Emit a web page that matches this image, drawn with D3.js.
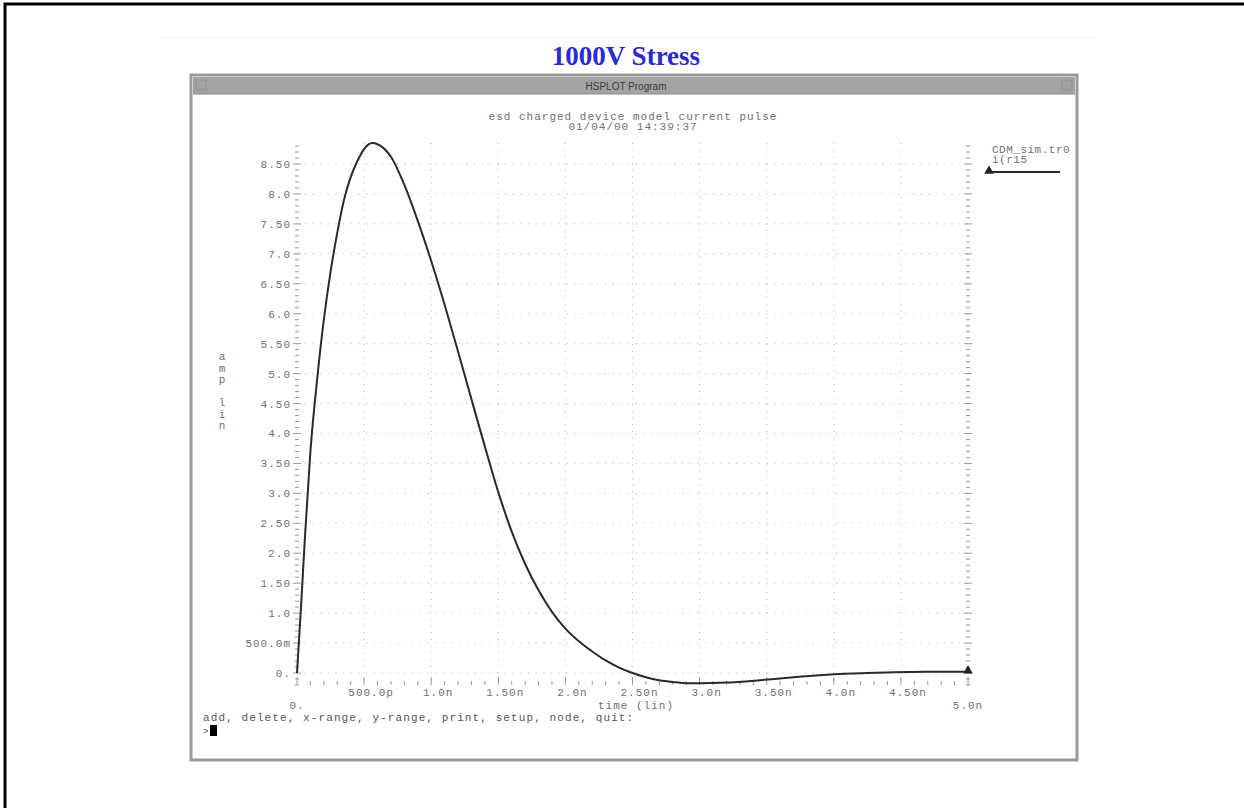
<!DOCTYPE html>
<html><head><meta charset="utf-8">
<script src="https://cdn.jsdelivr.net/npm/d3@7"></script>
<style>html,body{margin:0;padding:0;background:#fff;overflow:hidden}</style>
</head><body>
<svg id="c" width="1244" height="808"></svg>
<script>
// ---- data ----
const timeNs = [0, 0.03, 0.06, 0.10, 0.15, 0.20, 0.25, 0.30, 0.35, 0.40, 0.45, 0.50, 0.56, 0.60, 0.70, 0.80, 0.90, 1.00, 1.10, 1.20, 1.30, 1.40, 1.50, 1.60, 1.70, 1.80, 1.90, 2.00, 2.10, 2.20, 2.30, 2.40, 2.50, 2.60, 2.70, 2.80, 2.90, 3.00, 3.20, 3.45, 3.70, 4.00, 4.25, 4.70, 5.00];
const currentA = [0, 1.1, 2.3, 3.7, 4.9, 5.9, 6.7, 7.35, 7.9, 8.28, 8.55, 8.75, 8.85, 8.83, 8.62, 8.15, 7.55, 6.88, 6.15, 5.37, 4.57, 3.78, 3.02, 2.36, 1.82, 1.38, 1.02, 0.74, 0.53, 0.36, 0.21, 0.09, 0.0, -0.07, -0.12, -0.15, -0.17, -0.17, -0.16, -0.12, -0.07, -0.02, 0.0, 0.02, 0.02];
const yTickVals = [0, 0.5, 1, 1.5, 2, 2.5, 3, 3.5, 4, 4.5, 5, 5.5, 6, 6.5, 7, 7.5, 8, 8.5];
const yTickLabels = ["0.", "500.0m", "1.0", "1.50", "2.0", "2.50", "3.0", "3.50", "4.0", "4.50", "5.0", "5.50", "6.0", "6.50", "7.0", "7.50", "8.0", "8.50"];
const xTickVals = [0, 0.5, 1, 1.5, 2, 2.5, 3, 3.5, 4, 4.5, 5];
const xTickLabels = ["0.", "500.0p", "1.0n", "1.50n", "2.0n", "2.50n", "3.0n", "3.50n", "4.0n", "4.50n", "5.0n"];
const titleText = "1000V Stress";
const windowTitle = "HSPLOT Program";
const headerLines = ["esd charged device model current pulse", "01/04/00 14:39:37"];
const legendLines = ["CDM_sim.tr0", "i(r15"];
const yLabelChars = ["a", "m", "p", "", "l", "i", "n"];
const xAxisTitle = "time (lin)";
const promptText = "add, delete, x-range, y-range, print, setup, node, quit:";

const svg = d3.select("#c");
const mono = "'Liberation Mono','DejaVu Sans Mono',monospace";
const txtCol = "#707070";

// outer page border
svg.append("rect").attr("x",5).attr("y",4).attr("width",1300).attr("height",900)
  .attr("fill","none").attr("stroke","#000").attr("stroke-width",3);

// faint rule
svg.append("line").attr("x1",160).attr("x2",1095).attr("y1",38).attr("y2",38)
  .attr("stroke","#f0f0f0").attr("stroke-width",1);

// title
svg.append("text").attr("x",626).attr("y",65).attr("text-anchor","middle")
  .attr("font-family","'Liberation Serif','Times New Roman',serif").attr("font-weight","bold")
  .attr("font-size",27).attr("fill","#2a2ad2").text(titleText);

// window frame
svg.append("rect").attr("x",191).attr("y",75).attr("width",886).attr("height",685)
  .attr("fill","#fff").attr("stroke","#9a9a9a").attr("stroke-width",3);
svg.append("rect").attr("x",193).attr("y",77).attr("width",882).attr("height",17).attr("fill","#a3a3a3");
svg.append("line").attr("x1",193).attr("x2",1075).attr("y1",94).attr("y2",94).attr("stroke","#8a8a8a");
svg.append("text").attr("x",626).attr("y",90).attr("text-anchor","middle")
  .attr("font-family","'Liberation Sans',Arial,sans-serif").attr("font-size",10).attr("fill","#3a3a3a").text(windowTitle);
svg.append("rect").attr("x",1062).attr("y",80).attr("width",10).attr("height",10).attr("fill","none").attr("stroke","#8c8c8c").attr("stroke-width",0.8);
svg.append("rect").attr("x",196).attr("y",80).attr("width",10).attr("height",10).attr("fill","none").attr("stroke","#8c8c8c").attr("stroke-width",0.8);

// scales
const x = d3.scaleLinear().domain([0,5]).range([297,968]);
const y = d3.scaleLinear().domain([0,8.5]).range([673,164]);
const plotTop = 143, plotBottom = 683;

// grid (dotted)
const g = svg.append("g");
g.selectAll(".vg").data(xTickVals.slice(1,-1)).join("line")
  .attr("x1",d=>x(d)).attr("x2",d=>x(d)).attr("y1",plotTop).attr("y2",plotBottom)
  .attr("stroke","#b0b0b0").attr("stroke-width",1).attr("stroke-dasharray","1,5.7");
g.selectAll(".hg").data(yTickVals).join("line")
  .attr("x1",x(0)).attr("x2",x(5)).attr("y1",d=>y(d)).attr("y2",d=>y(d))
  .attr("stroke","#b0b0b0").attr("stroke-width",1).attr("stroke-dasharray","1,6.7");

// left & right axes with minor ticks
const yMinor = d3.range(-2, 89).map(v=>v/10);
[x(0), x(5)].forEach(ax=>{
  const a = svg.append("g");
  a.selectAll("line").data(yMinor).join("line")
    .attr("x1",d=> (Math.round(d*10)%5===0)? ax-4 : ax-2)
    .attr("x2",d=> (Math.round(d*10)%5===0)? ax+4 : ax+2)
    .attr("y1",d=>y(d)).attr("y2",d=>y(d))
    .attr("stroke","#9a9a9a").attr("stroke-width",1);
});
// x-axis ticks row
const xMinor = d3.range(0, 51).map(v=>v/10);
svg.append("g").selectAll("line").data(xMinor).join("line")
  .attr("x1",d=>x(d)).attr("x2",d=>x(d))
  .attr("y1",d=> (Math.round(d*10)%5===0)? plotBottom-6 : plotBottom-2)
  .attr("y2",d=> plotBottom+2)
  .attr("stroke","#9a9a9a").attr("stroke-width",1);

// y tick labels
svg.append("g").selectAll("text").data(yTickVals).join("text")
  .attr("x",291).attr("y",(d)=>y(d)+4).attr("text-anchor","end")
  .attr("font-family",mono).attr("font-size",11).attr("letter-spacing",1)
  .attr("fill",txtCol).text((d,i)=>yTickLabels[i]);

// x tick labels
svg.append("g").selectAll("text").data(xTickVals).join("text")
  .attr("x",(d,i)=> (i===0||i===xTickVals.length-1) ? x(d) : x(d)+7)
  .attr("y",(d,i)=> (i===0||i===xTickVals.length-1) ? 709 : 696)
  .attr("text-anchor","middle")
  .attr("font-family",mono).attr("font-size",11).attr("letter-spacing",1)
  .attr("fill",txtCol).text((d,i)=>xTickLabels[i]);
svg.append("text").attr("x",636).attr("y",709).attr("text-anchor","middle")
  .attr("font-family",mono).attr("font-size",11).attr("letter-spacing",1)
  .attr("fill",txtCol).text(xAxisTitle);

// y axis label (stacked)
svg.append("g").selectAll("text").data(yLabelChars).join("text")
  .attr("x",222).attr("y",(d,i)=>360+i*11.5).attr("text-anchor","middle")
  .attr("font-family",mono).attr("font-size",11).attr("fill",txtCol).text(d=>d);

// header
svg.append("g").selectAll("text").data(headerLines).join("text")
  .attr("x",633).attr("y",(d,i)=>120+i*10).attr("text-anchor","middle")
  .attr("font-family",mono).attr("font-size",11).attr("letter-spacing",1)
  .attr("fill",txtCol).text(d=>d);

// curve
const pts = timeNs.map((t,i)=>[t,currentA[i]]);
svg.append("path").datum(pts)
  .attr("d", d3.line().x(d=>x(d[0])).y(d=>y(d[1])).curve(d3.curveMonotoneX))
  .attr("fill","none").attr("stroke","#2a2a2a").attr("stroke-width",2);

// end marker
const tri = d3.symbol().type(d3.symbolTriangle).size(40);
svg.append("path").attr("d",tri()).attr("transform",`translate(${x(timeNs[timeNs.length-1])},${y(currentA[currentA.length-1])-1})`).attr("fill","#222");

// legend
svg.append("g").selectAll("text").data(legendLines).join("text")
  .attr("x",992).attr("y",(d,i)=>153+i*10)
  .attr("font-family",mono).attr("font-size",11).attr("letter-spacing",0.5)
  .attr("fill",txtCol).text(d=>d);
svg.append("line").attr("x1",988).attr("x2",1060).attr("y1",172).attr("y2",172)
  .attr("stroke","#2a2a2a").attr("stroke-width",2);
svg.append("path").attr("d",tri()).attr("transform","translate(989,171)").attr("fill","#222");

// prompt
svg.append("text").attr("x",203).attr("y",721)
  .attr("font-family",mono).attr("font-size",11).attr("letter-spacing",1.1)
  .attr("fill","#555").text(promptText);
svg.append("text").attr("x",203).attr("y",734)
  .attr("font-family",mono).attr("font-size",9).attr("fill","#555").text(">");
svg.append("rect").attr("x",210).attr("y",725).attr("width",7).attr("height",11).attr("fill","#000");
</script>
</body></html>
